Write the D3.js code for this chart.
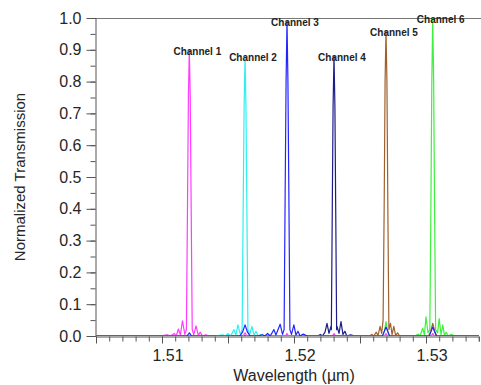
<!DOCTYPE html>
<html>
<head>
<meta charset="utf-8">
<script src="https://cdn.jsdelivr.net/npm/d3@7"></script>
<style>
  body { margin: 0; background: #fff; }
  svg { display: block; font-family: "Liberation Sans", Arial, sans-serif; }
</style>
</head>
<body>
<svg id="chart" width="481" height="385"></svg>
<script>
// channel names, colours and peak positions
let channelNames = ['Channel 1', 'Channel 2', 'Channel 3', 'Channel 4', 'Channel 5', 'Channel 6'];
let channelColors = ['#ff3cff', '#2ef0f0', '#2424ff', '#1c1c8a', '#a0602c', '#3ef03e'];
let peakWavelengths = [1.51207, 1.51629, 1.51947, 1.52303, 1.52697, 1.53051];
let peakValues = [0.90, 0.88, 0.99, 0.88, 0.96, 1.0];

// spectra: wavelength (um) and normalized transmission
let ch1Wl = [1.505, 1.5098, 1.5104, 1.51063, 1.51093, 1.51108, 1.51124, 1.51139, 1.51155, 1.51173, 1.51185, 1.51193, 1.512, 1.51207, 1.51214, 1.51221, 1.51229, 1.51241, 1.51258, 1.51275, 1.5129, 1.51306, 1.5133, 1.5136, 1.51615, 1.51629, 1.51643, 1.51935, 1.51947, 1.51959, 1.52291, 1.52303, 1.52315, 1.52685, 1.52697, 1.52709, 1.53039, 1.53051, 1.53063, 1.534];
let ch1T = [0, 0, 0.004, 0, 0.008, 0, 0.022, 0.003, 0.048, 0.005, 0.02, 0.4, 0.75, 0.90, 0.75, 0.4, 0.02, 0.004, 0.032, 0.002, 0.012, 0, 0.004, 0, 0, 0.01, 0, 0, 0.008, 0, 0, 0.008, 0, 0, 0.008, 0, 0, 0.008, 0, 0];

let ch2Wl = [1.505, 1.514, 1.5146, 1.5148, 1.515, 1.5152, 1.51545, 1.5156, 1.51575, 1.51593, 1.51607, 1.51615, 1.51622, 1.51629, 1.51636, 1.51643, 1.51651, 1.51665, 1.51681, 1.51697, 1.51712, 1.51728, 1.5175, 1.5178, 1.534];
let ch2T = [0, 0, 0.004, 0, 0.008, 0, 0.02, 0.003, 0.035, 0.005, 0.02, 0.4, 0.72, 0.88, 0.72, 0.4, 0.02, 0.005, 0.03, 0.003, 0.015, 0, 0.005, 0, 0];

let ch3Wl = [1.505, 1.5119, 1.51207, 1.51224, 1.5159, 1.5161, 1.51629, 1.51648, 1.51668, 1.5172, 1.5176, 1.5178, 1.518, 1.5182, 1.51848, 1.51863, 1.51895, 1.51913, 1.51925, 1.51933, 1.5194, 1.51947, 1.51954, 1.51961, 1.51969, 1.51981, 1.51999, 1.52015, 1.5203, 1.52046, 1.5207, 1.521, 1.5267, 1.52697, 1.52724, 1.53025, 1.53051, 1.53078, 1.534];
let ch3T = [0, 0, 0.01, 0, 0, 0.012, 0.035, 0.012, 0, 0, 0.004, 0, 0.008, 0, 0.02, 0.003, 0.037, 0.005, 0.02, 0.45, 0.8, 0.99, 0.8, 0.45, 0.02, 0.005, 0.035, 0.003, 0.015, 0, 0.006, 0, 0, 0.028, 0, 0, 0.028, 0, 0];

let ch4Wl = [1.505, 1.5218, 1.522, 1.52215, 1.52235, 1.5225, 1.52265, 1.5228, 1.52283, 1.5229, 1.52296, 1.52303, 1.5231, 1.52316, 1.52323, 1.52326, 1.52341, 1.52356, 1.52371, 1.52386, 1.524, 1.5243, 1.5246, 1.534];
let ch4T = [0, 0, 0.005, 0, 0.012, 0.04, 0.008, 0.03, 0.02, 0.4, 0.72, 0.88, 0.72, 0.4, 0.02, 0.03, 0.008, 0.045, 0.005, 0.015, 0, 0.004, 0, 0];

let ch5Wl = [1.505, 1.5257, 1.5259, 1.52605, 1.52622, 1.52637, 1.52652, 1.52664, 1.52675, 1.52683, 1.5269, 1.52697, 1.52704, 1.52711, 1.52719, 1.52731, 1.52743, 1.52756, 1.5277, 1.52785, 1.528, 1.5302, 1.53036, 1.53051, 1.53066, 1.53082, 1.534];
let ch5T = [0, 0, 0.005, 0, 0.012, 0.002, 0.03, 0.008, 0.05, 0.4, 0.8, 0.96, 0.8, 0.4, 0.02, 0.04, 0.004, 0.03, 0.002, 0.01, 0, 0, 0.015, 0.04, 0.015, 0, 0];

let ch6Wl = [1.505, 1.5267, 1.52685, 1.52697, 1.52709, 1.52724, 1.5292, 1.5294, 1.52955, 1.52975, 1.52988, 1.53, 1.53015, 1.53029, 1.53037, 1.53044, 1.53051, 1.53058, 1.53065, 1.53073, 1.53088, 1.531, 1.53114, 1.53127, 1.5314, 1.53153, 1.53168, 1.5319, 1.5322, 1.534];
let ch6T = [0, 0, 0.015, 0.045, 0.015, 0, 0, 0.006, 0, 0.025, 0.004, 0.06, 0.01, 0.02, 0.4, 0.8, 1.0, 0.8, 0.4, 0.02, 0.01, 0.055, 0.004, 0.035, 0.002, 0.012, 0, 0.005, 0, 0];

// axis ticks
let xTickLabels = [1.51, 1.52, 1.53];
let yTickLabels = [0, 0.1, 0.2, 0.3, 0.4, 0.5, 0.6, 0.7, 0.8, 0.9, 1.0];

let wlSeries = [ch1Wl, ch2Wl, ch3Wl, ch4Wl, ch5Wl, ch6Wl];
let tSeries = [ch1T, ch2T, ch3T, ch4T, ch5T, ch6T];

let channels = channelNames.map((name, i) => {
	return {
		name: name,
		color: channelColors[i],
		peakWl: peakWavelengths[i],
		peakT: peakValues[i],
		points: wlSeries[i].map((w, j) => [w, tSeries[i][j]])
	};
});

let svg = d3.select('#chart');

let plotLeft = 96;
let plotTop = 18;
let plotBottom = 336;
let plotRight = 478.8;

let xScale = d3.scaleLinear().domain([1.505, 1.534]).range([plotLeft, plotRight]);
let yScale = d3.scaleLinear().domain([0, 1]).range([plotBottom, plotTop]);

svg.append('defs')
	.append('clipPath')
	.attr('id', 'plotClip')
	.append('rect')
	.attr('x', plotLeft)
	.attr('y', plotTop - 2)
	.attr('width', 481 - plotLeft)
	.attr('height', plotBottom - plotTop + 2);

// frame top line
svg.append('line')
	.attr('x1', plotLeft).attr('x2', 481)
	.attr('y1', plotTop + 0.5).attr('y2', plotTop + 0.5)
	.attr('stroke', '#777')
	.attr('stroke-width', 1);

// x axis: minor ticks every 0.001, long ticks every 0.005
let xMinor = d3.range(0, 30).map((i) => 1.505 + i * 0.001);
let xMajor = d3.range(0, 6).map((i) => 1.505 + i * 0.005);

let xAxisMinor = svg.append('g')
	.attr('transform', 'translate(0,' + (plotBottom + 0.5) + ')')
	.call(d3.axisBottom(xScale).tickValues(xMinor).tickSize(5).tickFormat(''));
xAxisMinor.select('.domain').attr('stroke', '#555');
xAxisMinor.selectAll('.tick line').attr('stroke', '#555');

let xAxisMajor = svg.append('g')
	.attr('transform', 'translate(0,' + (plotBottom + 0.5) + ')')
	.call(d3.axisBottom(xScale).tickValues(xMajor).tickSize(7).tickFormat(''));
xAxisMajor.select('.domain').remove();
xAxisMajor.selectAll('.tick line').attr('stroke', '#555');

svg.append('g')
	.selectAll('text')
	.data(xTickLabels)
	.enter()
	.append('text')
	.attr('x', (d) => xScale(d) + 6)
	.attr('y', 361)
	.attr('text-anchor', 'middle')
	.attr('font-size', 16)
	.attr('fill', '#262626')
	.text((d) => d3.format('.2f')(d));

// y axis
let yMinor = d3.range(0, 21).map((i) => i * 0.05);

let yAxisMinor = svg.append('g')
	.attr('transform', 'translate(' + (plotLeft - 0.5) + ',0)')
	.call(d3.axisLeft(yScale).tickValues(yMinor).tickSize(5).tickFormat(''));
yAxisMinor.select('.domain').attr('stroke', '#555');
yAxisMinor.selectAll('.tick line').attr('stroke', '#555');

let yAxisMajor = svg.append('g')
	.attr('transform', 'translate(' + (plotLeft - 0.5) + ',0)')
	.call(d3.axisLeft(yScale).tickValues(yTickLabels).tickSize(9).tickPadding(5).tickFormat(d3.format('.1f')));
yAxisMajor.select('.domain').remove();
yAxisMajor.selectAll('.tick line').attr('stroke', '#555');
yAxisMajor.selectAll('.tick text')
	.attr('font-size', 16)
	.attr('font-family', '"Liberation Sans", Arial, sans-serif')
	.attr('fill', '#262626');

// axis titles
svg.append('text')
	.attr('x', 294)
	.attr('y', 381)
	.attr('text-anchor', 'middle')
	.attr('font-size', 16)
	.attr('fill', '#262626')
	.text('Wavelength (\u00b5m)');

svg.append('text')
	.attr('transform', 'translate(25,' + ((plotTop + plotBottom) / 2) + ') rotate(-90)')
	.attr('text-anchor', 'middle')
	.attr('font-size', 15)
	.attr('fill', '#262626')
	.text('Normalized Transmission');

// spectra
let line = d3.line()
	.x((d) => xScale(d[0]))
	.y((d) => yScale(d[1]));

let drawOrder = [5, 4, 3, 1, 0, 2];

svg.append('g')
	.attr('clip-path', 'url(#plotClip)')
	.selectAll('path')
	.data(drawOrder.map((i) => channels[i]))
	.enter()
	.append('path')
	.attr('d', (ch) => line(ch.points))
	.attr('fill', 'none')
	.attr('stroke', (ch) => ch.color)
	.attr('stroke-width', 1.2)
	.attr('stroke-linejoin', 'round');

// channel labels
svg.append('g')
	.selectAll('text')
	.data(channels)
	.enter()
	.append('text')
	.attr('x', (ch) => xScale(ch.peakWl) + 8)
	.attr('y', (ch) => yScale(ch.peakT) + 5)
	.attr('text-anchor', 'middle')
	.attr('font-size', 10)
	.attr('font-weight', 'bold')
	.attr('fill', '#222')
	.text((ch) => ch.name);
</script>
</body>
</html>
